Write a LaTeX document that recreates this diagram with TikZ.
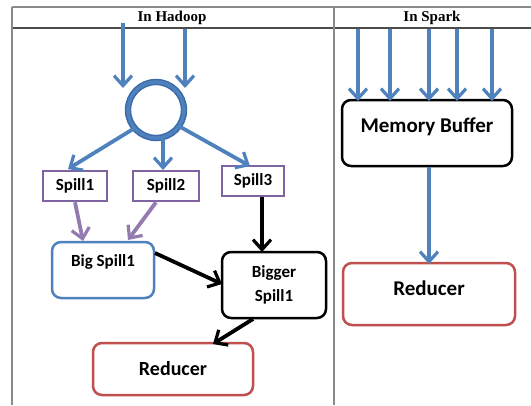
\documentclass[tikz,border=0pt]{standalone}
\usepackage{fontspec}
\setmainfont{Carlito}
\newfontfamily\hdrfont{Liberation Serif}
\usetikzlibrary{arrows.meta}
\definecolor{obl}{HTML}{4F81BD}
\definecolor{obld}{HTML}{3A6BAA}
\definecolor{opu}{HTML}{8064A2}
\definecolor{ore}{HTML}{C0504D}
\definecolor{grl}{HTML}{8A8A8A}
\tikzset{
  tbl/.style={grl, line width=1.3pt},
  hdr/.style={font=\hdrfont\bfseries\fontsize{15}{15}\selectfont, inner sep=0pt},
  barb/.style={-{Straight Barb[length=10pt,width=18pt,line width=3.2pt]}, line width=3.8pt},
  bluearr/.style={barb, obl},
  purarr/.style={barb, opu!85},
  blkarr/.style={barb, black},
  spillbox/.style={draw=opu, line width=2.5pt, fill=white, minimum width=#1, minimum height=30pt, inner sep=0pt, font=\bfseries\fontsize{17}{18}\selectfont},
  rbox/.style={rounded corners=9pt, line width=2.5pt, fill=white, inner sep=0pt, align=center},
}
\begin{document}
\begin{tikzpicture}[x=1pt,y=-1pt]
\useasboundingbox (0,0) rectangle (531,405);
% table
\draw[tbl] (12,7) -- (531,7);
\draw[tbl, black!70] (12,28) -- (531,28);
\draw[tbl] (12,7) -- (12,405);
\draw[tbl] (334,7) -- (334,405);
\node[hdr] (h1) at (172,18) {In Hadoop};
\node[hdr] (h2) at (432,18) {In Spark};

% Hadoop
\node[circle, draw=obld, double=obl, double distance=3.4pt, line width=1.5pt, minimum size=56pt, inner sep=0pt] (c) at (156,110) {};
\coordinate (i1) at (123,23);
\coordinate (i2) at (185,29);
\draw[bluearr] (i1) -- (123,88);
\draw[bluearr] (i2) -- (185,88);

\node[spillbox=64pt] (s1) at (75,186) {Spill1};
\node[spillbox=66pt] (s2) at (166,186) {Spill2};
\node[spillbox=62pt] (s3) at (253,181) {Spill3};

\draw[bluearr] (c.220) -- (68,169);
\draw[bluearr] (c.south) ++(7,0) -- (163,170);
\draw[bluearr] (c.325) -- (250,166);

\node[rbox, draw=obl, minimum width=102pt, minimum height=56pt] (b1) at (103,270) {};
\node[font=\bfseries\fontsize{17}{19}\selectfont, inner sep=0pt] (b1t) at (103,262) {Big Spill1};
\node[rbox, draw=black, minimum width=104pt, minimum height=66pt, font=\bfseries\fontsize{17}{24}\selectfont] (b2) at (274,285) {Bigger\\Spill1};
\node[rbox, draw=ore, minimum width=160pt, minimum height=52pt, font=\bfseries\fontsize{20}{22}\selectfont] (r1) at (173,369) {Reducer};

\draw[purarr] (s1.south) -- (83,241);
\draw[purarr] (s2.south) ++(-10,0) -- (128,240);
\draw[blkarr] (s3.south) ++(9,0) -- (262,252);
\draw[blkarr] (155,253) -- (222,284);
\draw[blkarr] (253,319) -- (213,344);

% Spark
\node[rbox, draw=black, minimum width=170pt, minimum height=66pt] (mb) at (427,133) {};
\node[font=\bfseries\fontsize{21}{23}\selectfont, inner sep=0pt] (mbt) at (427,127) {Memory Buffer};
\node[rbox, draw=ore, minimum width=172pt, minimum height=62pt] (r2) at (429,294) {};
\node[font=\bfseries\fontsize{21}{23}\selectfont, inner sep=0pt] (r2t) at (429,288) {Reducer};
\foreach \xx/\n in {358/a,390/b,429/c,457/d,492/e}{
  \coordinate (t\n) at (\xx,29);
  \draw[bluearr] (t\n) -- (\xx,101);
}
\draw[bluearr] (mb.south) ++(2,0) -- (429,264);
\end{tikzpicture}
\end{document}
